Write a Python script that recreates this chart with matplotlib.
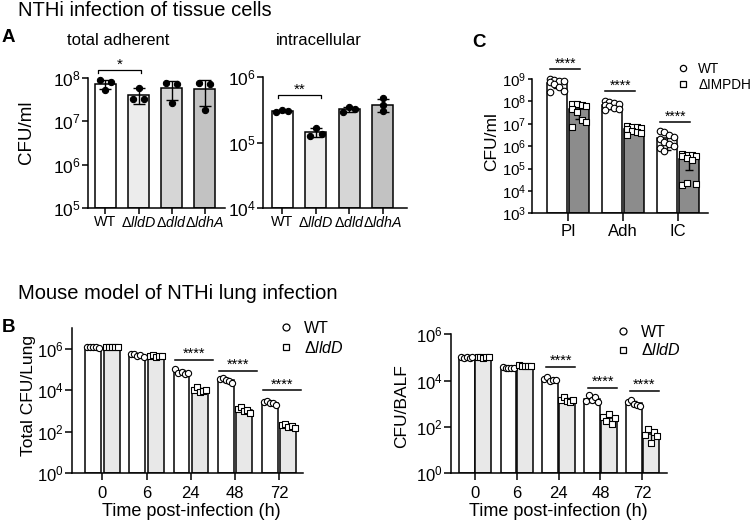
import numpy as np
import matplotlib
matplotlib.use('Agg')
import matplotlib.pyplot as plt
from matplotlib.lines import Line2D

plt.rcParams['font.family'] = ['Liberation Sans', 'DejaVu Sans']
plt.rcParams['mathtext.fontset'] = 'custom'
plt.rcParams['mathtext.rm'] = 'Liberation Sans'
plt.rcParams['mathtext.it'] = 'Liberation Sans:italic'
plt.rcParams['mathtext.default'] = 'regular'
plt.rcParams['axes.linewidth'] = 1.1

# ---- panel A: tissue cells, 3 replicates per strain ----
strains_a = ['WT', 'ΔlldD', 'Δdld', 'ΔldhA']
colors_a = ['white', '#ececec', '#d6d6d6', '#c2c2c2']
adherent = [[8.8e7, 5.4e7, 8.0e7],
            [3.2e7, 6.0e7, 3.2e7],
            [7.6e7, 2.7e7, 7.4e7],
            [7.6e7, 1.8e7, 7.4e7]]
intracellular = [[2.9e5, 3.1e5, 3.0e5],
                 [1.26e5, 1.68e5, 1.35e5],
                 [2.9e5, 3.45e5, 3.3e5],
                 [4.7e5, 3.7e5, 3.0e5]]

# ---- panel C: IMPDH mutant ----
groups_c = ['PI', 'Adh', 'IC']
c_wt = [[9.5e8, 9.0e8, 8.5e8, 8.0e8, 7.0e8, 6.0e8, 4.5e8, 3.0e8, 2.5e8],
        [1.0e8, 9.0e7, 8.5e7, 8.0e7, 7.0e7, 6.0e7, 5.0e7, 4.5e7, 4.0e7],
        [5.0e6, 4.5e6, 3.0e6, 2.5e6, 2.0e6, 1.5e6, 1.2e6, 1.0e6, 8.0e5, 6.0e5]]
c_impdh = [[7.5e7, 7.5e7, 7.0e7, 6.5e7, 4.5e7, 3.5e7, 1.5e7, 1.2e7, 7.0e6],
           [8.0e6, 7.5e6, 7.0e6, 6.5e6, 6.0e6, 5.0e6, 4.5e6, 4.0e6, 3.0e6],
           [4.5e5, 4.2e5, 4.0e5, 3.8e5, 3.5e5, 3.0e5, 2.5e5, 2.0e4, 1.8e4, 2.2e4]]
sig_c = [2.8e9, 2.8e8, 1.15e7]

# ---- panel B: mouse lung infection ----
hours = ['0', '6', '24', '48', '72']
lung_wt = [[1.2e6, 1.2e6, 1.25e6, 1.2e6, 1.15e6],
           [5.5e5, 5.8e5, 4.8e5, 5.2e5, 4.2e5],
           [1.05e5, 7.0e4, 8.0e4, 6.5e4, 6.8e4],
           [3.5e4, 4.2e4, 3.2e4, 3.0e4, 2.2e4],
           [2.8e3, 3.2e3, 2.6e3, 2.4e3, 2.0e3]]
lung_lldd = [[1.2e6, 1.25e6, 1.2e6, 1.2e6, 1.25e6],
             [4.8e5, 5.0e5, 4.2e5, 4.5e5, 4.5e5],
             [1.0e4, 1.4e4, 8.0e3, 9.0e3, 1.1e4],
             [1.3e3, 1.6e3, 1.0e3, 1.1e3, 8.0e2],
             [2.1e2, 2.3e2, 1.8e2, 2.0e2, 1.6e2]]
sig_lung = [3.1e5, 9.0e4, 1.0e4]
balf_wt = [[1.0e5, 9.8e4, 1.0e5, 9.6e4, 1.02e5],
           [3.8e4, 3.6e4, 3.5e4, 3.6e4, 3.4e4],
           [1.2e4, 1.45e4, 1.0e4, 1.1e4, 1.05e4],
           [1.3e3, 2.5e3, 1.5e3, 1.9e3, 1.2e3],
           [1.2e3, 1.4e3, 1.0e3, 9.0e2, 8.0e2]]
balf_lldd = [[1.0e5, 1.01e5, 9.9e4, 1.0e5, 1.02e5],
             [4.6e4, 4.4e4, 4.2e4, 4.1e4, 4.3e4],
             [1.5e3, 1.9e3, 1.3e3, 1.2e3, 1.4e3],
             [2.8e2, 1.9e2, 3.8e2, 1.4e2, 2.5e2],
             [45, 85, 20, 60, 40]]
sig_balf = [4.0e4, 5.0e3, 3.7e3]

W, H = 750, 526
fig = plt.figure(figsize=(7.5, 5.26), dpi=100)


def px_axes(left, top, right, bottom):
    return fig.add_axes([left / W, 1 - bottom / H, (right - left) / W, (bottom - top) / H])


def style(ax, ylim, yticks, xlim, ticklen=4, ypad=1, xpad=1, ysize=10.5):
    ax.set_yscale('log')
    ax.set_ylim(ylim)
    ax.set_xlim(xlim)
    ax.set_yticks(yticks)
    ax.minorticks_off()
    ax.spines['top'].set_visible(False)
    ax.spines['right'].set_visible(False)
    ax.tick_params(axis='y', length=ticklen, width=1.1, pad=ypad, labelsize=ysize)
    ax.tick_params(axis='x', length=ticklen, width=1.1, pad=xpad)


def ital(name):
    return r'$\mathregular{Δ}\mathit{' + name[1:] + '}$' if name.startswith('Δ') else name


def bars(ax, xs, data, colors, width, bottom, marker, mfc, ms, capsize, spread):
    for x, vals, c in zip(xs, data, colors):
        vals = np.asarray(vals, dtype=float)
        m = vals.mean()
        sd = vals.std(ddof=1)
        ax.bar(x, m - bottom, width, bottom=bottom, color=c, edgecolor='black',
               linewidth=1.1, zorder=2)
        lo = min(sd, m - bottom * 1.01)
        ax.errorbar(x, m, yerr=[[lo], [sd]], fmt='none', ecolor='black',
                    elinewidth=1, capsize=capsize, capthick=1, zorder=3)
        n = len(vals)
        if n <= 5:
            off = np.linspace(-spread, spread, n)
        else:
            off = ((np.arange(n) % 4) - 1.5) * spread / 1.5
        ax.scatter(x + off, vals, s=ms, marker=marker, facecolor=mfc,
                   edgecolor='black', linewidth=0.8, zorder=4, clip_on=False)


def sig(ax, x0, x1, y, text, drop=None, size=10):
    if drop:
        ax.plot([x0, x0, x1, x1], [y * drop, y, y, y * drop], color='black', lw=0.9,
                clip_on=False)
    else:
        ax.plot([x0, x1], [y, y], color='black', lw=1.1, clip_on=False)
    ax.annotate(text, ((x0 + x1) / 2, y), xytext=(0, -1), textcoords='offset points',
                ha='center', va='bottom', fontsize=size, annotation_clip=False)


# ---------- A: total adherent ----------
ax = px_axes(88, 78, 225, 208)
xa = np.arange(len(strains_a))
bars(ax, xa, adherent, colors_a, 0.64, 1e5, 'o', 'black', 20, 4.5, 0.18)
style(ax, (1e5, 1e8), [1e5, 1e6, 1e7, 1e8], (-0.53, 3.62), ysize=12.5)
ax.set_xticks(xa)
ax.set_xticklabels([ital(s) for s in strains_a], fontsize=10.3)
sig(ax, -0.22, 1.08, 1.53e8, '*', drop=0.875, size=11)

# ---------- A: intracellular ----------
ax = px_axes(263, 77, 407, 208)
bars(ax, xa[:3], intracellular[:3], colors_a[:3], 0.63, 1e4, 'o', 'black', 20, 4.5, 0.18)
bars(ax, xa[3:], intracellular[3:], colors_a[3:], 0.63, 1e4, 'o', 'black', 20, 4.5, 0.0)
style(ax, (1e4, 1e6), [1e4, 1e5, 1e6], (-0.58, 3.72), ysize=12.5)
ax.set_xticks(xa)
ax.set_xticklabels([ital(s) for s in strains_a], fontsize=10.3)
sig(ax, -0.14, 1.14, 5.3e5, '**', drop=0.91, size=11)

# ---------- C ----------
ax = px_axes(532, 79, 708, 213.3)
xc = np.arange(len(groups_c))
bars(ax, xc - 0.205, c_wt, ['white'] * 3, 0.36, 1e3, 'o', 'white', 22, 3, 0.13)
bars(ax, xc + 0.205, c_impdh, ['#8c8c8c'] * 3, 0.36, 1e3, 's', 'white', 22, 3, 0.13)
style(ax, (1e3, 1e9), [10.0 ** k for k in range(3, 10)], (-0.655, 2.545),
      ticklen=3, ysize=10.8)
ax.set_xticks(xc)
ax.set_xticklabels(groups_c, fontsize=12)
ax.tick_params(axis='x', length=6, pad=2)
for x, y in zip(xc, sig_c):
    sig(ax, x - 0.32, x + 0.22, y, '****', size=10)
handles = [Line2D([], [], marker='o', ls='none', mfc='white', mec='black', ms=4.5, mew=0.9),
           Line2D([], [], marker='s', ls='none', mfc='white', mec='black', ms=4.5, mew=0.9)]
ax.legend(handles, ['WT', 'ΔIMPDH'], loc='upper left', bbox_to_anchor=(678 / W, 1 - 62 / H),
          bbox_transform=fig.transFigure, frameon=False, fontsize=9.8, handlelength=0.8,
          handletextpad=0.7, labelspacing=0.15, borderpad=0, borderaxespad=0)

# ---------- B: lung ----------
ax = px_axes(72, 328.3, 303, 473.3)
xb = np.arange(len(hours))
bars(ax, xb - 0.21, lung_wt, ['white'] * 5, 0.36, 1, 'o', 'white', 20, 2.5, 0.14)
bars(ax, xb + 0.21, lung_lldd, ['#e8e8e8'] * 5, 0.36, 1, 's', 'white', 20, 2.5, 0.14)
style(ax, (1, 1e7), [1, 1e2, 1e4, 1e6], (-0.69, 4.54), ticklen=5, ypad=1, xpad=4, ysize=12)
ax.set_xticks(xb)
ax.set_xticklabels(hours, fontsize=12)
for x, y in zip(xb[2:], sig_lung):
    sig(ax, x - 0.36, x + 0.5, y, '****', size=10.5)
handles_b = [Line2D([], [], marker='o', ls='none', mfc='white', mec='black', ms=5, mew=0.9),
             Line2D([], [], marker='s', ls='none', mfc='white', mec='black', ms=5, mew=0.9)]
ax.legend(handles_b, ['WT', ital('ΔlldD')], loc='upper left',
          bbox_to_anchor=(280 / W, 1 - 321 / H), bbox_transform=fig.transFigure,
          frameon=False, fontsize=11.5, handlelength=0.8, handletextpad=0.7,
          labelspacing=0.25, borderpad=0, borderaxespad=0)

# ---------- B: BALF ----------
ax = px_axes(451, 334.3, 667, 473.3)
bars(ax, xb - 0.2, balf_wt, ['white'] * 5, 0.38, 1, 'o', 'white', 20, 2.5, 0.14)
bars(ax, xb + 0.2, balf_lldd, ['#e8e8e8'] * 5, 0.38, 1, 's', 'white', 20, 2.5, 0.14)
style(ax, (1, 1e6), [1, 1e2, 1e4, 1e6], (-0.574, 4.59), ticklen=5, ypad=1, xpad=4, ysize=12)
ax.set_xticks(xb)
ax.set_xticklabels(hours, fontsize=12)
for x, y in zip(xb[2:], sig_balf):
    sig(ax, x - 0.3, x + 0.4, y, '****', size=10.5)
ax.legend(handles_b, ['WT', ital('ΔlldD')], loc='upper left',
          bbox_to_anchor=(617 / W, 1 - 325 / H), bbox_transform=fig.transFigure,
          frameon=False, fontsize=11.5, handlelength=0.8, handletextpad=0.7,
          labelspacing=0.15, borderpad=0, borderaxespad=0)

# ---------- figure texts ----------
def ftext(x, y, s, **kw):
    fig.text(x / W, 1 - y / H, s, **kw)


ftext(18, 16, 'NTHi infection of tissue cells', fontsize=14.5, va='baseline')
ftext(18, 299, 'Mouse model of NTHi lung infection', fontsize=14.5, va='baseline')
ftext(2, 42, 'A', fontsize=13.5, fontweight='bold', va='baseline')
ftext(472, 47, 'C', fontsize=13.5, fontweight='bold', va='baseline')
ftext(2, 332, 'B', fontsize=13.5, fontweight='bold', va='baseline')
ftext(118, 45, 'total adherent', fontsize=12, ha='center', va='baseline')
ftext(319, 45, 'intracellular', fontsize=12, ha='center', va='baseline')
ftext(26, 132, 'CFU/ml', fontsize=13.5, rotation=90, ha='center', va='center')
ftext(492, 142, 'CFU/ml', fontsize=12.5, rotation=90, ha='center', va='center')
ftext(29, 395, 'Total CFU/Lung', fontsize=12.5, rotation=90, ha='center', va='center')
ftext(402, 406, 'CFU/BALF', fontsize=12.5, rotation=90, ha='center', va='center')
ftext(191, 511, 'Time post-infection (h)', fontsize=13, ha='center', va='center')
ftext(558, 511, 'Time post-infection (h)', fontsize=13, ha='center', va='center')

fig.savefig('out.png', dpi=100)
